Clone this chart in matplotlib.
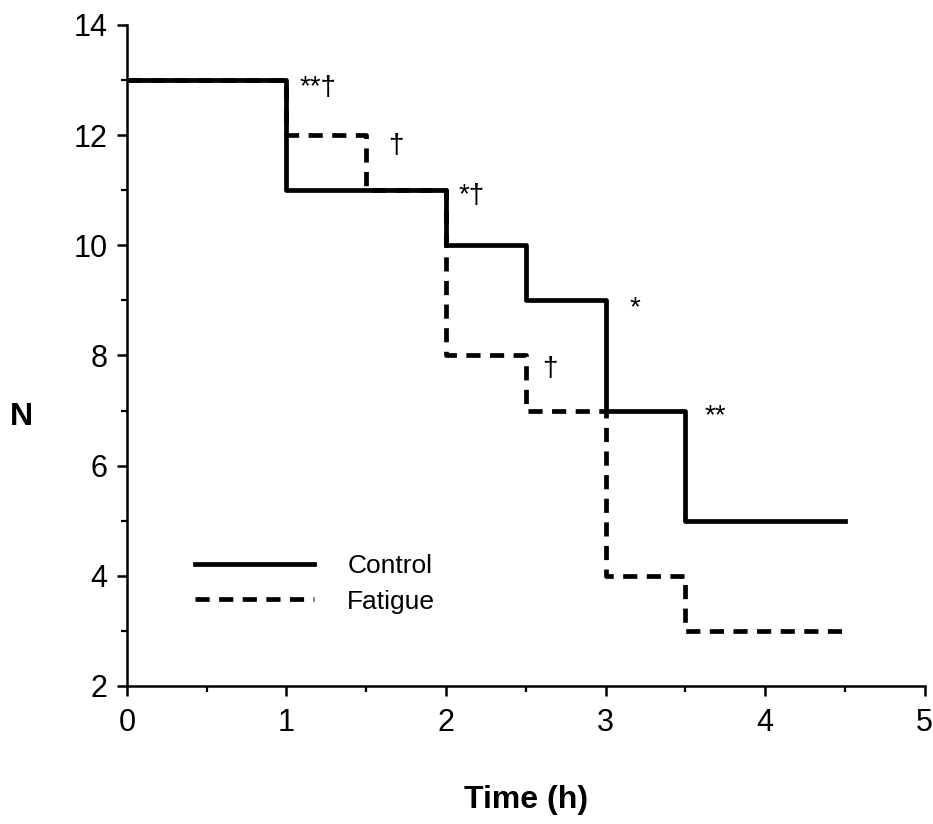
import matplotlib
matplotlib.use("Agg")
import matplotlib.pyplot as plt
from matplotlib.ticker import MultipleLocator

plt.rcParams['font.family'] = ['Liberation Sans', 'DejaVu Sans']

times = [0, 1, 1.5, 2, 2.5, 3, 3.5, 4.5]
control = [13, 11, 11, 10, 9, 7, 5, 5]
fatigue = [13, 12, 11, 8, 7, 4, 3, 3]

ann_text = ["**†", "†", "*†", "*", "†", "**"]
ann_x = [1.08, 1.64, 2.08, 3.15, 2.6, 3.62]
ann_y = [12.85, 11.8, 10.9, 8.85, 7.75, 6.9]

fig = plt.figure(figsize=(9.33, 8.24), dpi=100)
ax = fig.add_axes([0.136, 0.1675, 0.855, 0.8022])

ax.step(times, control, where='post', color='black', lw=3.4, label='Control')
ax.step(times, fatigue, where='post', color='black', lw=3.4, ls=(0, (3, 2)), label='Fatigue')

for t, x, y in zip(ann_text, ann_x, ann_y):
    ax.text(x, y, t, fontsize=20, ha='left', va='center')

ax.set_xlim(0, 5)
ax.set_ylim(2, 14)
ax.xaxis.set_major_locator(MultipleLocator(1))
ax.xaxis.set_minor_locator(MultipleLocator(0.5))
ax.yaxis.set_major_locator(MultipleLocator(2))
ax.yaxis.set_minor_locator(MultipleLocator(1))
for s in ['top', 'right']:
    ax.spines[s].set_visible(False)
for s in ['left', 'bottom']:
    ax.spines[s].set_linewidth(1.8)
ax.tick_params(which='major', direction='out', length=7, width=1.8, labelsize=22)
ax.tick_params(axis='x', which='major', pad=9)
ax.tick_params(axis='y', which='major', pad=7)
ax.tick_params(which='minor', direction='out', length=4, width=1.6)

ax.set_xlabel('Time (h)', fontsize=23, fontweight='bold')
ax.xaxis.set_label_coords(0.5, -0.1725)
ax.xaxis.label.set_va('center')
ax.set_ylabel('N', fontsize=23, fontweight='bold', rotation=0)
ax.yaxis.set_label_coords(-0.1316, 0.407)
ax.yaxis.label.set_va('center')
ax.yaxis.label.set_ha('center')

leg = ax.legend(loc='upper left', bbox_to_anchor=(0.086, 0.200), frameon=False,
                fontsize=19, handlelength=4.5, handletextpad=1.25, labelspacing=0.45,
                borderpad=0, borderaxespad=0)

fig.savefig('out.png', dpi=100)
